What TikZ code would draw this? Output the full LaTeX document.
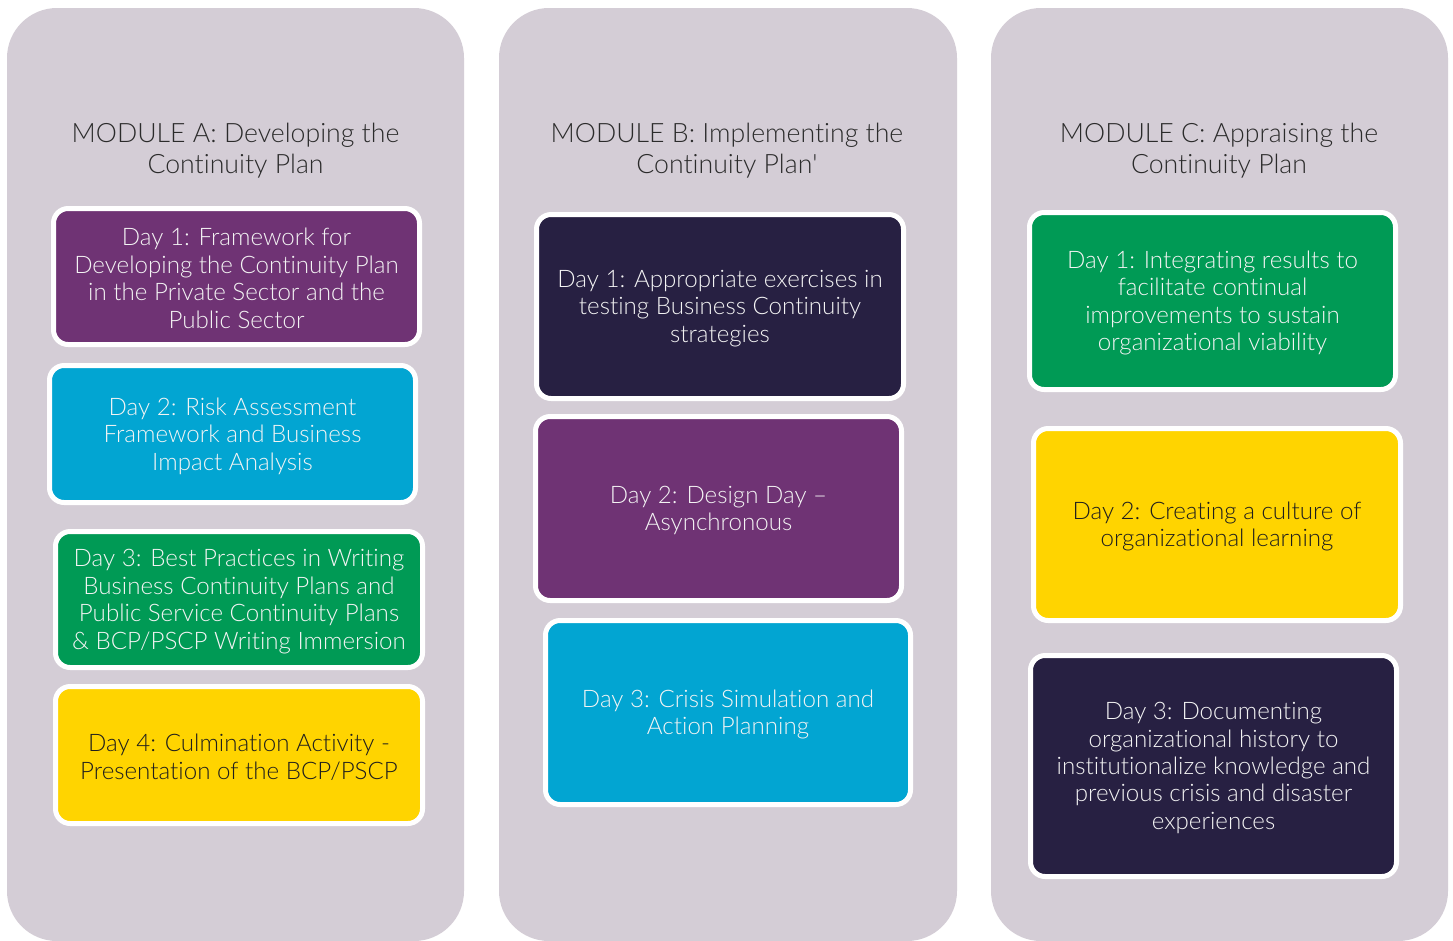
\documentclass[tikz,border=0pt]{standalone}
\usepackage{fontspec}
\setmainfont{Lato Light}[Ligatures={NoCommon}]
\definecolor{panel}{HTML}{D4CDD6}
\definecolor{cpurple}{HTML}{6F3374}
\definecolor{ccyan}{HTML}{02A5D2}
\definecolor{cgreen}{HTML}{009A55}
\definecolor{cyellow}{HTML}{FFD400}
\definecolor{cnavy}{HTML}{272042}
\definecolor{ctitle}{HTML}{2B2B2B}
\definecolor{clight}{HTML}{F4F4F4}
\definecolor{cdark}{HTML}{1E1E1E}
\tikzset{
  panelbox/.style={fill=panel, draw=none, rounded corners=37.5pt},
  title/.style={text=ctitle, align=center, font=\fontsize{20pt}{23.25pt}\selectfont, inner sep=0pt},
  daybox/.style={draw=white, line width=3.75pt, rounded corners=11pt, inner sep=0pt},
  daytext/.style={align=center, font=\fontsize{18.1pt}{20.6pt}\selectfont, text=clight, inner sep=0pt},
}
\begin{document}
\begin{tikzpicture}[x=0.75pt, y=-0.75pt]
\fill[white] (0,0) rectangle (1453,940);
\useasboundingbox (0,0) rectangle (1453,940);
% panels
\path[panelbox] (7,8) rectangle (464,941);
\path[panelbox] (499,8) rectangle (957,941);
\path[panelbox] (991,8) rectangle (1448,941);
% titles
\node[title] (ta) at (235.5,150.5) {MODULE A: Developing the\\Continuity Plan};
\node[title] (tb) at (727,150.5) {MODULE B: Implementing the\\Continuity Plan\textquotesingle};
\node[title] (tc) at (1219,150.5) {MODULE C: Appraising the\\Continuity Plan};
% module A
\node[daybox, fill=cpurple, minimum width=366*0.75pt, minimum height=136*0.75pt] (a1) at (236.5,276.5) {};
\node[daytext] (a1t) at ([yshift=-1.5pt]a1.center)
  {Day 1: Framework for\\Developing the Continuity Plan\\in the Private Sector and the\\Public Sector};
\node[daybox, fill=ccyan, minimum width=366*0.75pt, minimum height=137*0.75pt] (a2) at (232.5,434) {};
\node[daytext] (a2t) at ([yshift=-1.5pt]a2.center)
  {Day 2: Risk Assessment\\Framework and Business\\Impact Analysis};
\node[daybox, fill=cgreen, minimum width=367*0.75pt, minimum height=136*0.75pt] (a3) at (239,599.5) {};
\node[daytext] (a3t) at ([yshift=-1.5pt]a3.center)
  {Day 3: Best Practices in Writing\\Business Continuity Plans and\\Public Service Continuity Plans\\\& BCP/PSCP Writing Immersion};
\node[daybox, fill=cyellow, minimum width=367*0.75pt, minimum height=137*0.75pt] (a4) at (239,755) {};
\node[daytext, text=cdark] (a4t) at ([yshift=-1.5pt]a4.center)
  {Day 4: Culmination Activity -\\Presentation of the BCP/PSCP};
% module B
\node[daybox, fill=cnavy, minimum width=367*0.75pt, minimum height=184*0.75pt] (b1) at (720,306.5) {};
\node[daytext] (b1t) at ([yshift=-1.5pt]b1.center)
  {Day 1: Appropriate exercises in\\testing Business Continuity\\strategies};
\node[daybox, fill=cpurple, minimum width=366*0.75pt, minimum height=184*0.75pt] (b2) at (718.5,508.5) {};
\node[daytext] (b2t) at ([yshift=-1.5pt]b2.center)
  {Day 2: Design Day --\\Asynchronous};
\node[daybox, fill=ccyan, minimum width=365*0.75pt, minimum height=184*0.75pt] (b3) at (728,712.5) {};
\node[daytext] (b3t) at ([yshift=-1.5pt]b3.center)
  {Day 3: Crisis Simulation and\\Action Planning};
% module C
\node[daybox, fill=cgreen, minimum width=366*0.75pt, minimum height=177*0.75pt] (c1) at (1212.5,301) {};
\node[daytext] (c1t) at ([yshift=-1.5pt]c1.center)
  {Day 1: Integrating results to\\facilitate continual\\improvements to sustain\\organizational viability};
\node[daybox, fill=cyellow, minimum width=367*0.75pt, minimum height=192*0.75pt] (c2) at (1217,524.5) {};
\node[daytext, text=cdark] (c2t) at ([yshift=-1.5pt]c2.center)
  {Day 2: Creating a culture of\\organizational learning};
\node[daybox, fill=cnavy, minimum width=366*0.75pt, minimum height=221*0.75pt] (c3) at (1213.5,766) {};
\node[daytext] (c3t) at ([yshift=-1.5pt]c3.center)
  {Day 3: Documenting\\organizational history to\\institutionalize knowledge and\\previous crisis and disaster\\experiences};
\end{tikzpicture}
\end{document}
